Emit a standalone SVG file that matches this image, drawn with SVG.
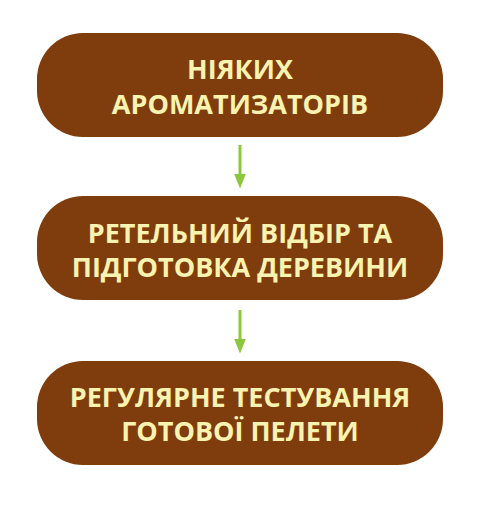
<svg xmlns="http://www.w3.org/2000/svg" width="486" height="514" viewBox="0 0 486 514">
<style>
.box{fill:#7f3c0d}
.t{font-family:"Open Sans","Liberation Sans",sans-serif;font-weight:bold;font-size:27px;fill:#f8f3b0;text-anchor:middle}
.c{stroke:#8dc63f;stroke-width:3;fill:none}
</style>
<defs>
<marker id="ah" markerWidth="5" markerHeight="4" refX="2.5" refY="2" orient="auto" markerUnits="strokeWidth" viewBox="0 0 5 4">
<path d="M0,0 L5,2 L0,4 Z" fill="#8dc63f"/>
</marker>
</defs>
<rect width="486" height="514" fill="#ffffff"/>
<g id="connectors">
<line class="c" x1="240" y1="145" x2="240" y2="181" marker-end="url(#ah)"/>
<line class="c" x1="240" y1="310" x2="240" y2="346" marker-end="url(#ah)"/>
</g>
<g id="node1">
<rect class="box" x="37" y="33" width="406" height="104" rx="46"/>
<text class="t" x="240" y="79">НІЯКИХ</text>
<text class="t" x="240" y="114">АРОМАТИЗАТОРІВ</text>
</g>
<g id="node2">
<rect class="box" x="37" y="196" width="406" height="104" rx="46"/>
<text class="t" x="240" y="243">РЕТЕЛЬНИЙ ВІДБІР ТА</text>
<text class="t" x="240" y="277">ПІДГОТОВКА ДЕРЕВИНИ</text>
</g>
<g id="node3">
<rect class="box" x="37" y="361" width="406" height="104" rx="46"/>
<text class="t" x="240" y="407">РЕГУЛЯРНЕ ТЕСТУВАННЯ</text>
<text class="t" x="240" y="441">ГОТОВОЇ ПЕЛЕТИ</text>
</g>
</svg>
